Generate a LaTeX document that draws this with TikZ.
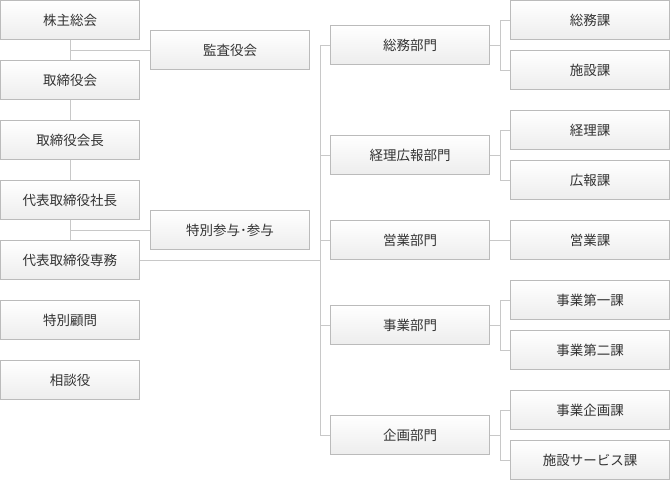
\documentclass[tikz,border=0pt]{standalone}
\usepackage{fontspec}
\newfontfamily\jpfont{Noto Sans CJK JP}
\usetikzlibrary{backgrounds}
\definecolor{boxline}{RGB}{187,187,187}
\definecolor{conn}{RGB}{200,200,200}
\definecolor{boxbot}{RGB}{237,237,237}
\definecolor{txt}{RGB}{51,51,51}
\tikzset{
  orgbox/.style={draw=boxline, line width=1pt, top color=white, bottom color=boxbot,
    minimum height=39pt, inner sep=0pt, text=txt,
    font=\jpfont\fontsize{13.5}{16}\selectfont},
  leftbox/.style={orgbox, minimum width=139pt},
  widebox/.style={orgbox, minimum width=159pt},
  link/.style={draw=conn, line width=1pt}
}
\begin{document}
\begin{tikzpicture}[x=1pt,y=-1pt]
\useasboundingbox (0,0) rectangle (670,480);
% left column
\node[leftbox] (kabu)   at (70,20)  {株主総会};
\node[leftbox] (tori)   at (70,80)  {取締役会};
\node[leftbox] (kaicho) at (70,140) {取締役会長};
\node[leftbox] (shacho) at (70,200) {代表取締役社長};
\node[leftbox] (senmu)  at (70,260) {代表取締役専務};
\node[leftbox] (komon)  at (70,320) {特別顧問};
\node[leftbox] (sodan)  at (70,380) {相談役};
% second column
\node[widebox] (kansa)  at (230,50)  {監査役会};
\node[widebox] (sanyo)  at (230,230) {特別参与･参与};
% divisions
\node[widebox] (somub)  at (410,45)  {総務部門};
\node[widebox] (keirib) at (410,155) {経理広報部門};
\node[widebox] (eigyob) at (410,240) {営業部門};
\node[widebox] (jigyob) at (410,325) {事業部門};
\node[widebox] (kikakub) at (410,435) {企画部門};
% sections
\node[widebox] (somuk)  at (590,20)  {総務課};
\node[widebox] (shisetsuk) at (590,70) {施設課};
\node[widebox] (keirik) at (590,130) {経理課};
\node[widebox] (kohok)  at (590,180) {広報課};
\node[widebox] (eigyok) at (590,240) {営業課};
\node[widebox] (jig1k)  at (590,300) {事業第一課};
\node[widebox] (jig2k)  at (590,350) {事業第二課};
\node[widebox] (jkk)    at (590,410) {事業企画課};
\node[widebox] (ssk)    at (590,460) {施設サービス課};
% junction coordinates
\coordinate (jk) at (70,50);
\coordinate (js) at (70,230);
\coordinate (t0) at (320,45);
\coordinate (t1) at (320,155);
\coordinate (t2) at (320,240);
\coordinate (tm) at (320,260);
\coordinate (t3) at (320,325);
\coordinate (t4) at (320,435);
\coordinate (s0a) at (500,20);  \coordinate (s0b) at (500,70);  \coordinate (s0) at (500,45);
\coordinate (s1a) at (500,130); \coordinate (s1b) at (500,180); \coordinate (s1) at (500,155);
\coordinate (s3a) at (500,300); \coordinate (s3b) at (500,350); \coordinate (s3) at (500,325);
\coordinate (s4a) at (500,410); \coordinate (s4b) at (500,460); \coordinate (s4) at (500,435);
\begin{scope}[on background layer]
  \draw[link] (kabu.south) -- (tori.north);
  \draw[link] (tori.south) -- (kaicho.north);
  \draw[link] (kaicho.south) -- (shacho.north);
  \draw[link] (shacho.south) -- (senmu.north);
  \draw[link] (jk) -- (kansa.west);
  \draw[link] (js) -- (sanyo.west);
  \draw[link] (senmu.east) -- (tm);
  \draw[link] (t0) -- (t4);
  \draw[link] (t0) -- (somub.west);
  \draw[link] (t1) -- (keirib.west);
  \draw[link] (t2) -- (eigyob.west);
  \draw[link] (t3) -- (jigyob.west);
  \draw[link] (t4) -- (kikakub.west);
  \draw[link] (somub.east) -- (s0);
  \draw[link] (s0a) -- (s0b);
  \draw[link] (s0a) -- (somuk.west);
  \draw[link] (s0b) -- (shisetsuk.west);
  \draw[link] (keirib.east) -- (s1);
  \draw[link] (s1a) -- (s1b);
  \draw[link] (s1a) -- (keirik.west);
  \draw[link] (s1b) -- (kohok.west);
  \draw[link] (eigyob.east) -- (eigyok.west);
  \draw[link] (jigyob.east) -- (s3);
  \draw[link] (s3a) -- (s3b);
  \draw[link] (s3a) -- (jig1k.west);
  \draw[link] (s3b) -- (jig2k.west);
  \draw[link] (kikakub.east) -- (s4);
  \draw[link] (s4a) -- (s4b);
  \draw[link] (s4a) -- (jkk.west);
  \draw[link] (s4b) -- (ssk.west);
\end{scope}
\end{tikzpicture}
\end{document}
